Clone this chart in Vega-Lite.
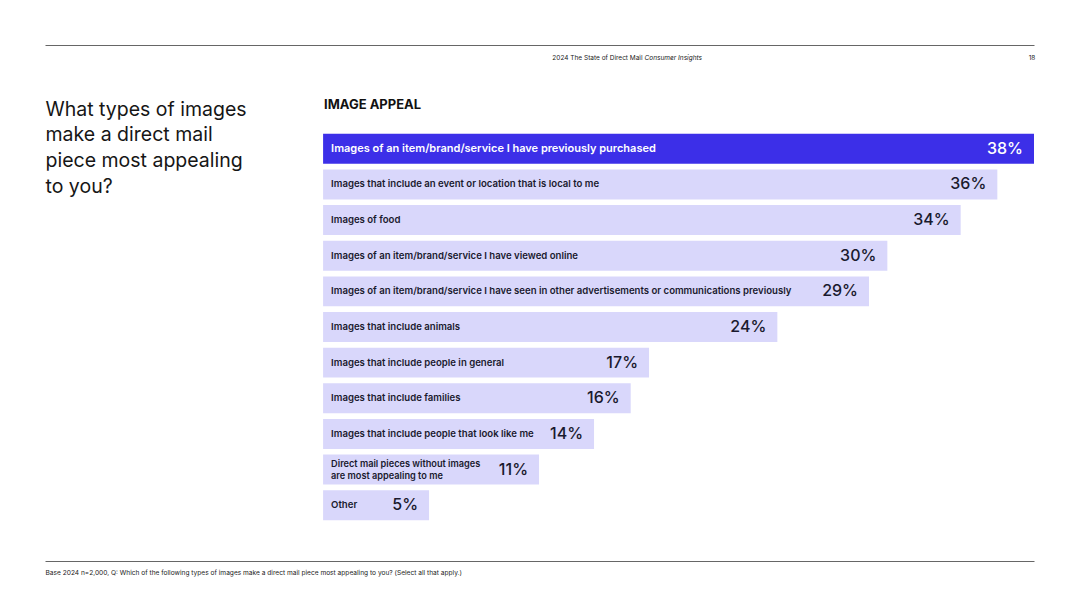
{
  "$schema": "https://vega.github.io/schema/vega-lite/v6.json",
  "width": 989,
  "height": 516,
  "autosize": {"type": "none"},
  "padding": {"left": 45, "top": 45, "right": 46, "bottom": 47},
  "background": "white",
  "config": {
    "view": {"stroke": null},
    "font": "Inter",
    "title": {"font": "Inter"},
    "axis": {"labelFont": "Inter", "titleFont": "Inter"}
  },
  "title": {
    "text": "IMAGE APPEAL",
    "anchor": "start",
    "frame": "group",
    "orient": "top",
    "fontSize": 13,
    "fontWeight": 700,
    "color": "#111111",
    "baseline": "middle",
    "offset": 0,
    "dx": 279,
    "dy": 73
  },
  "data": {
    "values": [
      {"label": "Images of an item/brand/service I have previously purchased", "pct": 0.38},
      {"label": "Images that include an event or location that is local to me", "pct": 0.36},
      {"label": "Images of food", "pct": 0.34},
      {"label": "Images of an item/brand/service I have viewed online", "pct": 0.30},
      {"label": "Images of an item/brand/service I have seen in other advertisements or communications previously", "pct": 0.29},
      {"label": "Images that include animals", "pct": 0.24},
      {"label": "Images that include people in general", "pct": 0.17},
      {"label": "Images that include families", "pct": 0.16},
      {"label": "Images that include people that look like me", "pct": 0.14},
      {"label": "Direct mail pieces without images\nare most appealing to me", "pct": 0.11},
      {"label": "Other", "pct": 0.05}
    ]
  },
  "encoding": {
    "y": {
      "field": "label",
      "type": "nominal",
      "sort": null,
      "scale": {"range": [86, 478], "paddingInner": 0.16, "paddingOuter": 0.08},
      "axis": {
        "orient": "left",
        "domain": false,
        "ticks": false,
        "labels": false,
        "grid": false,
        "title": ["What types of images", "make a direct mail", "piece most appealing", "to you?"],
        "titleAngle": 0,
        "titleAlign": "left",
        "titleBaseline": "top",
        "titleX": 0,
        "titleY": 55,
        "titleFontSize": 19.5,
        "titleFontWeight": 400,
        "titleColor": "#161616",
        "titleLineHeight": 25.7
      }
    }
  },
  "layer": [
    {
      "mark": {"type": "bar", "cornerRadius": 0},
      "encoding": {
        "x": {
          "field": "pct",
          "type": "quantitative",
          "scale": {"domain": [-0.1595, 0.38], "nice": false, "zero": false},
          "axis": {
            "orient": "top",
            "domain": true,
            "domainColor": "#666666",
            "domainWidth": 1,
            "ticks": false,
            "tickSize": 0,
            "grid": false,
            "values": [0.1673, 0.3768],
            "labelExpr": "datum.value < 0.3 ? 'Consumer Insights' : '18'",
            "labelFontStyle": {"condition": {"test": "datum.value < 0.3", "value": "italic"}, "value": "normal"},
            "labelFontSize": 6.5,
            "labelColor": "#222222",
            "labelAlign": "left",
            "labelBaseline": "middle",
            "labelPadding": -12,
            "labelFlush": false,
            "labelOverlap": false,
            "title": "2024 The State of Direct Mail",
            "titleFontSize": 6.5,
            "titleFontWeight": 400,
            "titleColor": "#222222",
            "titleAlign": "right",
            "titleBaseline": "middle",
            "titleX": 597,
            "titleY": 12
          }
        },
        "x2": {"datum": -0.0078},
        "color": {
          "condition": {"test": "datum.pct >= 0.38", "value": "#3C2FE8"},
          "value": "#D9D7FB"
        }
      }
    },
    {
      "transform": [{"filter": "datum.pct < 0.38 && datum.pct != 0.11"}],
      "mark": {"type": "text", "align": "left", "baseline": "middle", "dx": 8, "fontSize": 9.6, "fontWeight": 600, "color": "#1A1A2E"},
      "encoding": {
        "x": {"datum": -0.0078, "type": "quantitative", "axis": null},
        "text": {"field": "label"}
      }
    },
    {
      "transform": [{"filter": "datum.pct == 0.11"}],
      "mark": {"type": "text", "align": "left", "baseline": "middle", "dx": 8, "dy": -6, "fontSize": 9.2, "fontWeight": 600, "lineBreak": "\n", "lineHeight": 12, "color": "#1A1A2E"},
      "encoding": {
        "x": {"datum": -0.0078, "type": "quantitative", "axis": null},
        "text": {"field": "label"}
      }
    },
    {
      "transform": [{"filter": "datum.pct >= 0.38"}],
      "mark": {"type": "text", "align": "left", "baseline": "middle", "dx": 8, "fontSize": 11, "fontWeight": 600, "color": "#FFFFFF"},
      "encoding": {
        "x": {"datum": -0.0078, "type": "quantitative", "axis": null},
        "text": {"field": "label"}
      }
    },
    {
      "mark": {"type": "text", "align": "right", "baseline": "middle", "dx": -11, "fontSize": 16, "fontWeight": 500},
      "encoding": {
        "x": {
          "field": "pct",
          "type": "quantitative",
          "axis": {
            "orient": "bottom",
            "domain": true,
            "domainColor": "#666666",
            "domainWidth": 1,
            "ticks": false,
            "labels": false,
            "grid": false,
            "title": "Base 2024 n=2,000, Q: Which of the following types of images make a direct mail piece most appealing to you?  (Select all that apply.)",
            "titleFontSize": 6.6,
            "titleFontWeight": 400,
            "titleColor": "#222222",
            "titleAlign": "left",
            "titleBaseline": "middle",
            "titleX": 0,
            "titleY": 11
          }
        },
        "text": {"field": "pct", "type": "quantitative", "format": ".0%"},
        "color": {
          "condition": {"test": "datum.pct >= 0.38", "value": "#FFFFFF"},
          "value": "#1A1A2E"
        }
      }
    }
  ],
  "resolve": {"axis": {"x": "independent"}}
}
